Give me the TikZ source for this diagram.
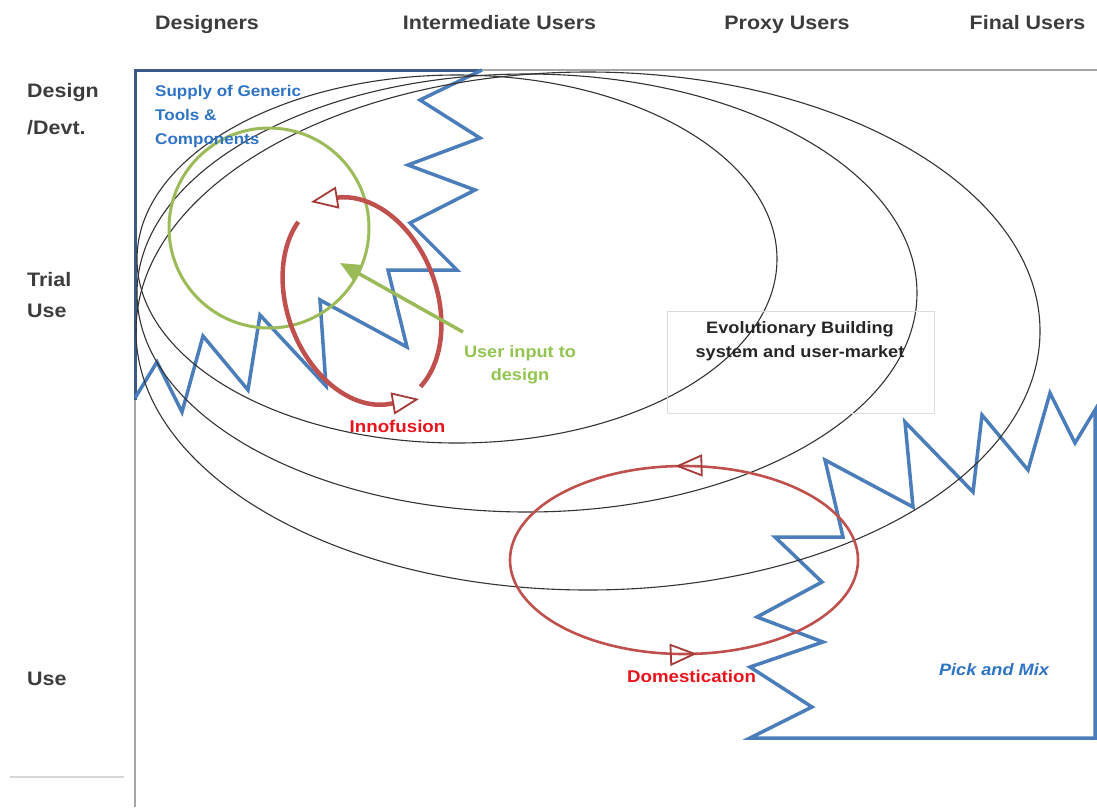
\documentclass[tikz,border=0pt]{standalone}
\usepackage{fontspec}
\setmainfont{Liberation Sans}[FakeStretch=1.1]
\usetikzlibrary{arrows.meta,decorations.markings}

\definecolor{hdgray}{HTML}{3C3C3C}
\definecolor{framedark}{HTML}{3B5A87}
\definecolor{zigblue}{HTML}{4A7DBA}
\definecolor{rulegray}{HTML}{A6A6A6}
\definecolor{lightrule}{HTML}{D6D6D6}
\definecolor{ellgray}{HTML}{333333}
\definecolor{greenline}{HTML}{9BBB59}
\definecolor{greentxt}{HTML}{92C450}
\definecolor{loopred}{HTML}{C0504D}
\definecolor{arrowred}{HTML}{A33B38}
\definecolor{redtxt}{HTML}{E8141C}
\definecolor{bluetxt}{HTML}{2F73C4}
\definecolor{boxgray}{HTML}{DCDCDC}
\definecolor{evotxt}{HTML}{262626}

\tikzset{
  openhead/.tip={Triangle[open,length=27pt,width=22pt,line width=1.8pt,color=arrowred]},
  greenhead/.tip={Triangle[length=20pt,width=17pt]},
  hdr/.style={font=\bfseries\fontsize{19.5}{23}\selectfont, text=hdgray, inner sep=0pt, anchor=base},
  rowlbl/.style={font=\bfseries\fontsize{19.5}{#1}\selectfont, text=hdgray, inner sep=0pt, align=left, anchor=north west},
  framedge/.style={draw=framedark, line width=3pt, line join=miter},
  grayedge/.style={draw=rulegray, line width=2.2pt},
  zig/.style={draw=zigblue, line width=3.5pt, line join=miter},
  ell/.style={draw=ellgray, line width=1.1pt},
  greenring/.style={draw=greenline, line width=3pt},
  greenarrow/.style={draw=greenline, line width=3.5pt, fill=greenline},
  innoloop/.style={draw=loopred, line width=4.5pt},
  domloop/.style={draw=loopred, line width=2.6pt},
  redlbl/.style={font=\bfseries\fontsize{17}{20}\selectfont, text=redtxt, inner sep=0pt, anchor=base},
  bluelbl/.style={font=\bfseries\fontsize{15.5}{24}\selectfont, text=bluetxt, inner sep=0pt, align=left},
  greenlbl/.style={font=\bfseries\fontsize{16.5}{23.5}\selectfont, text=greentxt, inner sep=0pt, align=center},
  evobox/.style={draw=boxgray, line width=1pt, minimum width=267pt, minimum height=102pt, inner sep=0pt},
  evolbl/.style={font=\bfseries\fontsize{16.5}{24}\selectfont, text=evotxt, inner sep=0pt, align=center, anchor=north},
}

\begin{document}
\begin{tikzpicture}[x=1pt,y=-1pt]
\useasboundingbox (0,0) rectangle (1097,807);

% column headings
\node[hdr] (hdes) at (207,29) {Designers};
\node[hdr] (hint) at (499.5,29) {Intermediate Users};
\node[hdr] (hprx) at (787,29) {Proxy Users};
\node[hdr] (hfin) at (1027.5,29) {Final Users};

% row labels
\node[rowlbl=37] (rdes) at (27,83) {Design\\/Devt.};
\node[rowlbl=31] (rtri) at (27,272) {Trial\\Use};
\node[hdr, anchor=base west] (ruse) at (27,685) {Use};
\draw[draw=lightrule, line width=1.5pt] (10,777) -- (124,777);

% outer frame
\draw[grayedge] (482,70) -- (1097,70);
\draw[grayedge] (135,400) -- (135,807);
\draw[framedge] (135,400) -- (135,70) -- (482,70);

% supply boundary (designers' corner)
\draw[zig] (482,70) -- (420,100) -- (480,138) -- (408,165) -- (475,190)
  -- (410,223) -- (457,270) -- (388,270) -- (407,347) -- (320,300)
  -- (326,386) -- (260,315) -- (248,390) -- (203,336) -- (182,412)
  -- (157,362) -- (135,398);

% pick-and-mix boundary (final users' corner)
\draw[zig] (1095,410) -- (1075,443) -- (1050,393) -- (1028,470) -- (982,415)
  -- (973,492) -- (905,422) -- (913,507) -- (825,460) -- (843,537)
  -- (775,537) -- (822,582) -- (757,617) -- (823,642) -- (750,667)
  -- (812,707) -- (750,738) -- (1095,738) -- cycle;

% nested evolution ellipses
\draw[ell] (457,259) ellipse [x radius=320, y radius=184];
\draw[ell] (527,293) ellipse [x radius=390, y radius=219];
\draw[ell] (588,331) ellipse [x radius=452, y radius=259];

% user input circle
\draw[greenring] (269,228) circle [radius=100];

% innofusion loop: two tilted arcs, each ending in an open head
% (named end points are absolute, so the rotation only shapes the arcs)
\coordinate (innobot) at (419,399);
\coordinate (innotop) at (311,202);
\draw[innoloop, -openhead, shift={(362,301)}, rotate=20]
  (244:75 and 107)
  arc [start angle=244, end angle=99, x radius=75, y radius=107]
  -- (innobot);
\draw[innoloop, -openhead, shift={(362,301)}, rotate=20]
  (70:75 and 107)
  arc [start angle=70, end angle=-80, x radius=75, y radius=107]
  -- (innotop);

% domestication loop
\draw[domloop, postaction={decorate}, decoration={markings,
    mark=at position 0.26 with {\arrow{openhead}},
    mark=at position 0.765 with {\arrow{openhead}}}]
  (858,560) arc [start angle=360, end angle=0, x radius=174, y radius=94];

% evolutionary building box
\node[evobox] (evo) at (800.5,362) {};
\node[evolbl] (evotext) at (800,321.5) {Evolutionary Building\\system and user-market};

% labels
\node[bluelbl, anchor=north west] (supply) at (155,85.5) {Supply of Generic\\Tools \&\\Components};
\node[redlbl] (inno) at (397.5,432) {Innofusion};
\node[redlbl] (dome) at (691.5,682) {Domestication};
\node[font=\bfseries\itshape\fontsize{16.5}{20}\selectfont, text=bluetxt, inner sep=0pt, anchor=base] (pick) at (994,675) {Pick and Mix};
\node[greenlbl] (uin) at (520,365) {User input to\\design};

% user input arrow
\coordinate (gtail) at (463,332);
\coordinate (gtip) at (340,263);
\draw[greenarrow, -greenhead] (gtail) -- (gtip);

\end{tikzpicture}
\end{document}
